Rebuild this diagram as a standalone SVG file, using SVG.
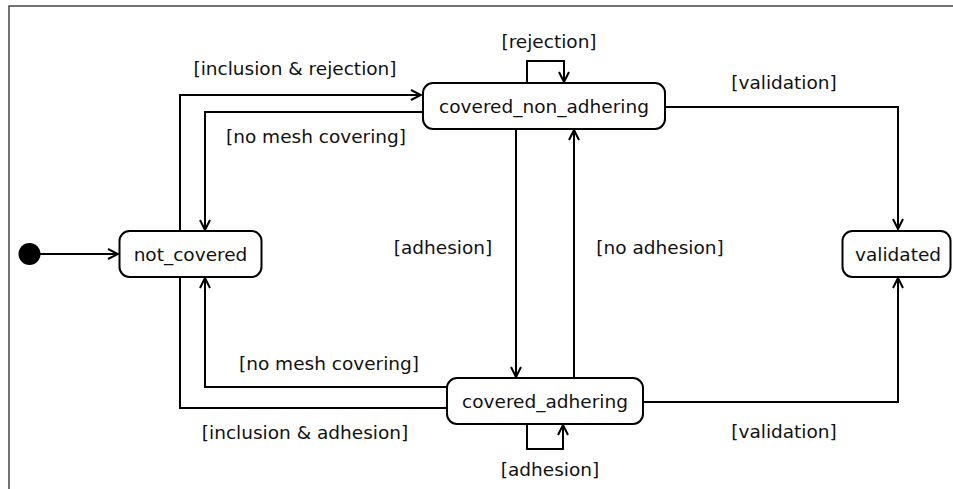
<svg xmlns="http://www.w3.org/2000/svg" width="953" height="489" viewBox="0 0 953 489">
  <defs>
    <marker id="open" viewBox="0 0 12 12" refX="11" refY="6" markerWidth="12" markerHeight="12" markerUnits="userSpaceOnUse" orient="auto">
      <path d="M1,1 L11,6 L1,11" fill="none" stroke="#000" stroke-width="2"/>
    </marker>
    <style>
      .frame { fill: none; stroke: #444; stroke-width: 1.5; }
      .state rect { fill: #fff; stroke: #000; stroke-width: 2; }
      .state text, .lbl { font-family: "DejaVu Sans", Verdana, sans-serif; font-size: 18.5px; fill: #111; }
      .state text { text-anchor: middle; }
      .lbl { text-anchor: middle; }
      .edge { fill: none; stroke: #000; stroke-width: 2; }
      .arr { marker-end: url(#open); }
    </style>
  </defs>
  <rect width="953" height="489" fill="#fff"/>
  <!-- diagram frame -->
  <path class="frame" d="M9,489 V6 H953"/>

  <!-- transitions -->
  <g id="connectors">
    <path class="edge arr" d="M40,254 H118"/>
    <path class="edge arr" d="M180,231 V95 H421"/>
    <path class="edge arr" d="M423,112 H205 V230"/>
    <path class="edge arr" d="M527,83 V61 H564 V82"/>
    <path class="edge arr" d="M665,107 H898 V229"/>
    <path class="edge arr" d="M516,129 V377"/>
    <path class="edge arr" d="M574,378 V130"/>
    <path class="edge arr" d="M447,387 H205 V278"/>
    <path class="edge" d="M180,277 V408 H447"/>
    <path class="edge arr" d="M527,424 V449 H563 V425"/>
    <path class="edge arr" d="M643,402 H898 V278"/>

    <text class="lbl" x="295" y="75">[inclusion &amp; rejection]</text>
    <text class="lbl" x="316" y="143">[no mesh covering]</text>
    <text class="lbl" x="549" y="48">[rejection]</text>
    <text class="lbl" x="784" y="89">[validation]</text>
    <text class="lbl" x="443" y="254">[adhesion]</text>
    <text class="lbl" x="660" y="254">[no adhesion]</text>
    <text class="lbl" x="329" y="370">[no mesh covering]</text>
    <text class="lbl" x="305" y="439">[inclusion &amp; adhesion]</text>
    <text class="lbl" x="784" y="438">[validation]</text>
    <text class="lbl" x="550" y="476">[adhesion]</text>
  </g>

  <!-- states -->
  <g id="initial">
    <circle cx="29.5" cy="254" r="11" fill="#000"/>
  </g>
  <g id="not_covered" class="state">
    <rect x="119.5" y="231" width="142" height="46" rx="10"/>
    <text x="190.5" y="261">not_covered</text>
  </g>
  <g id="covered_non_adhering" class="state">
    <rect x="423" y="83" width="242" height="46" rx="10"/>
    <text x="544" y="113">covered_non_adhering</text>
  </g>
  <g id="covered_adhering" class="state">
    <rect x="447" y="378" width="196" height="46" rx="10"/>
    <text x="545" y="408">covered_adhering</text>
  </g>
  <g id="validated" class="state">
    <rect x="842.5" y="231" width="108" height="46" rx="10"/>
    <text x="898" y="261">validated</text>
  </g>
</svg>
